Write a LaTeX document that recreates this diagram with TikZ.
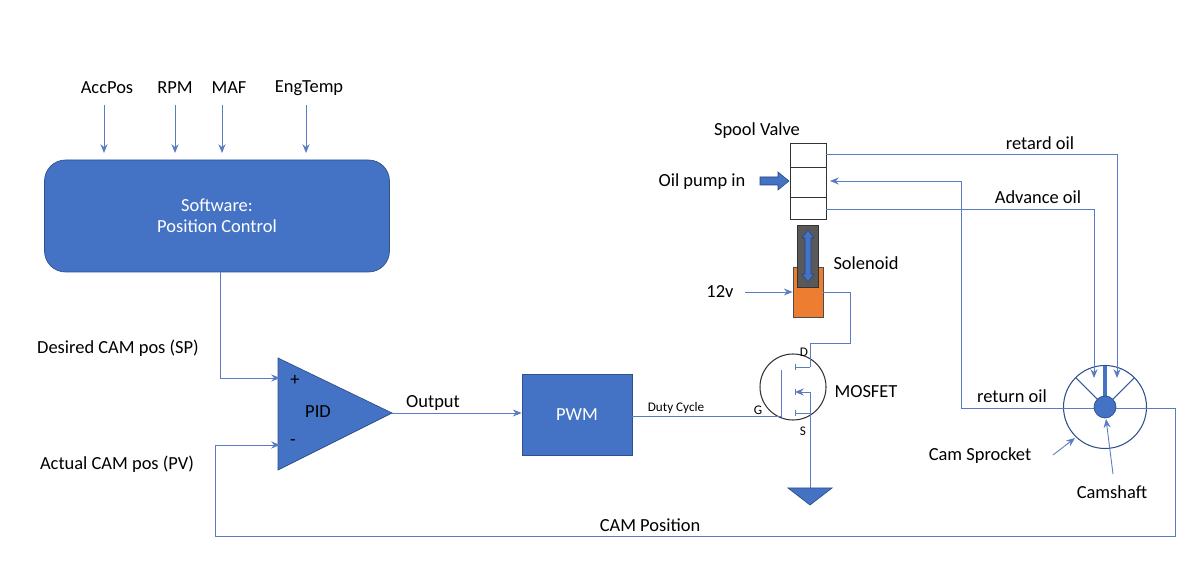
\documentclass[tikz,border=0pt]{standalone}
\usepackage{fontspec}
\setmainfont{Carlito}
\usetikzlibrary{arrows.meta}
\definecolor{bl}{HTML}{4472C4}
\definecolor{ln}{HTML}{5B7CC0}
\definecolor{org}{HTML}{ED7D31}
\begin{document}
\begin{tikzpicture}[x=0.02cm,y=-0.02cm,
  wire/.style={draw=ln,line width=0.5pt},
  arr/.style={wire,-{Stealth[length=5pt,width=4pt]}},
  lab/.style={font=\fontsize{10.5pt}{12pt}\selectfont,inner sep=0pt},
  blk/.style={draw=bl!70!black,fill=bl,text=white,font=\fontsize{10.5pt}{12pt}\selectfont}]
\useasboundingbox (0,0) rectangle (1200,580);
% inputs
\foreach \n/\t/\x/\ax in {a/AccPos/107/104,b/RPM/175/175,c/MAF/229/222,d/EngTemp/309/306}{
  \node[lab] (\n) at (\x,88) {\t};
  \coordinate (\n1) at (\ax,105); \coordinate (\n2) at (\ax,153);
  \draw[arr] (\n1) -- (\n2);}
\node[blk,rounded corners=12pt,minimum width=345*0.02cm,minimum height=112*0.02cm,align=center] (sw) at (217,216) {Software:\\Position Control};
% PID
\coordinate (t1) at (278,358); \coordinate (t2) at (278,470); \coordinate (tip) at (392,413);
\draw[draw=bl!70!black,fill=bl] (t1) -- (tip) -- (t2) -- cycle;
\node[lab] (plus) at (295,380) {+};
\node[lab] (minus) at (293,443) {-};
\node[lab] (pid) at (318,412) {PID};
\coordinate (pin) at (280,378); \coordinate (nin) at (280,445);
\draw[arr] (sw.south -| 220,0) |- (pin);
\node[lab] (sp) at (118,348) {Desired CAM pos (SP)};
\node[lab] (pv) at (117,464) {Actual CAM pos (PV)};
% PWM
\node[blk,minimum width=110*0.02cm,minimum height=81*0.02cm] (pwm) at (577,415) {PWM};
\draw[arr] (tip) -- (tip -| pwm.west);
\node[lab] (out) at (433,403) {Output};
% MOSFET
\node[draw=black!80,circle,minimum size=66*0.02cm,inner sep=0pt,line width=0.6pt] (mos) at (793,387) {};
\coordinate (g) at (781,416);
\draw[wire] (pwm.east |- 0,416) -- (g) -- (781,370);
\node[font=\fontsize{7.5pt}{9pt}\selectfont,inner sep=0pt] (dc) at (676,408) {Duty Cycle};
\node[font=\fontsize{7.5pt}{9pt}\selectfont,inner sep=0pt] (G) at (758,410) {G};
\node[font=\fontsize{7.5pt}{9pt}\selectfont,inner sep=0pt] (D) at (804,352) {D};
\node[font=\fontsize{7.5pt}{9pt}\selectfont,inner sep=0pt] (S) at (803,431) {S};
\foreach \y in {367,413}{\draw[wire] (795,\y-3) -- (795,\y+3); \draw[wire] (795,\y) -- (810,\y);}
\draw[wire] (795,389) -- (795,395);
\draw[arr] (810,413) -- (810,392) -- (795,392);
\node[lab] (mosl) at (866,392) {MOSFET};
% ground
\coordinate (gnd) at (810,488);
\draw[wire] (810,413) -- (gnd);
\draw[draw=bl!70!black,fill=bl] (788,488) -- (832,488) -- (810,505) -- cycle;
% solenoid
\node[draw=black!70,fill=org,minimum width=30*0.02cm,minimum height=50*0.02cm,inner sep=0pt] (sol) at (808,292) {};
\node[draw=black!80,fill=black!65,minimum width=21*0.02cm,minimum height=62*0.02cm,inner sep=0pt] (core) at (807.5,256) {};
\draw[draw=bl!60!black,fill=bl,line width=0.3pt] (808,230)--(814,238)--(811,238)--(811,274)--(814,274)--(808,282)--(802,274)--(805,274)--(805,238)--(802,238)--cycle;
\node[lab] (soll) at (866,263) {Solenoid};
\node[lab] (v12) at (720,292) {12v};
\coordinate (v12e) at (745,292);
\draw[arr] (v12e) -- (sol.west);
\draw[wire] (sol.east) -- (850,292) -- (850,343) -- (810,343) -- (810,367);
% spool valve
\node[draw=black!80,fill=white,minimum width=36*0.02cm,minimum height=76*0.02cm,inner sep=0pt] (sv) at (808,181) {};
\draw[black!80] (790,167) -- (826,167) (790,197) -- (826,197);
\node[lab] (svl) at (757,131) {Spool Valve};
\node[lab] (oil) at (702,182) {Oil pump in};
\draw[draw=bl!60!black,fill=bl,line width=0.3pt] (760,177)--(778,177)--(778,172)--(789,181)--(778,190)--(778,185)--(760,185)--cycle;
% cam sprocket
\node[draw=bl!70!black,circle,minimum size=83*0.02cm,inner sep=0pt,line width=0.6pt] (cs) at (1105,407) {};
\draw[wire] (961,408) -- (1175,408) -- (1175,536) -- (215,536) -- (215,445);
\draw[arr] (215,445) -- (nin);
\draw[arr] (961,408) -- (961,181) -- (830,181);
\draw[arr] (826,154) -- (1117,154) -- (1117,378);
\draw[arr] (826,209) -- (1094,209) -- (1094,378);
\draw[bl!80!black,line width=0.6pt] (1105,407) -- ++(-29,-29) (1105,407) -- ++(29,-29);
\draw[bl,line width=2.2pt] (1105,407) -- (1105,366);
\node[circle,fill=bl,draw=bl!70!black,minimum size=22*0.02cm,inner sep=0pt] (shaft) at (1105,407) {};
\node[lab] (ro) at (1040,143) {retard oil};
\node[lab] (ao) at (1038,197) {Advance oil};
\node[lab] (rt) at (1012,396) {return oil};
\node[lab] (csl) at (980,456) {Cam Sprocket};
\node[lab] (cml) at (1112,492) {Camshaft};
\coordinate (a1) at (1053,455); \coordinate (a2) at (1075,438);
\draw[arr] (a1) -- (a2);
\coordinate (b1) at (1113,474); \coordinate (b2) at (1106,419);
\draw[arr] (b1) -- (b2);
\node[lab] (cp) at (650,525) {CAM Position};
\end{tikzpicture}
\end{document}
